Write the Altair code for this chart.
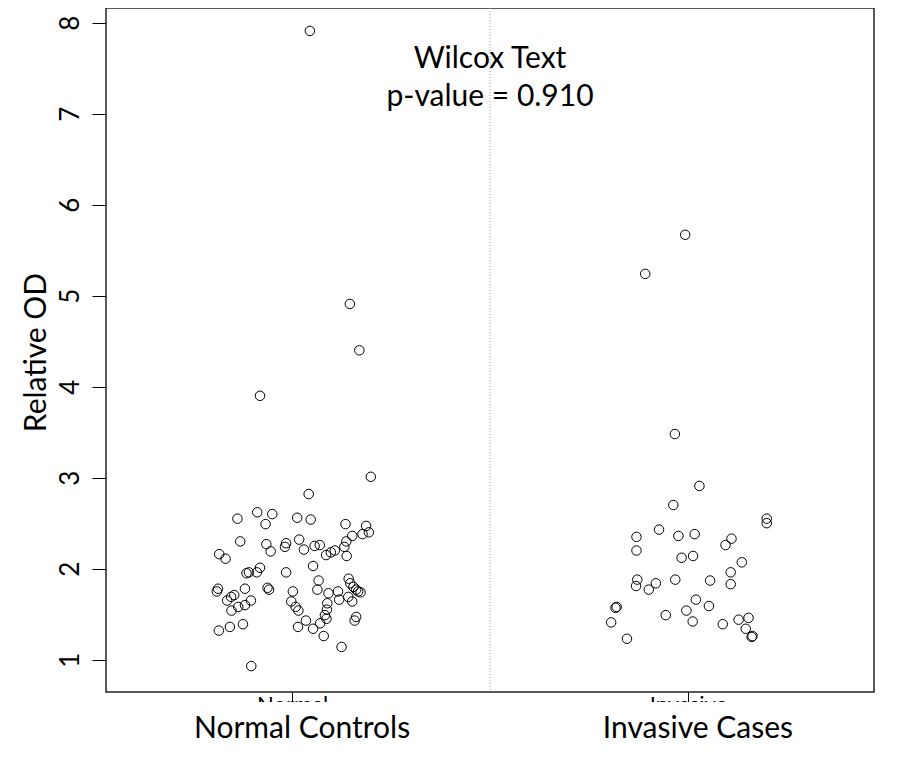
import altair as alt
import pandas as pd

# ---------------- data ----------------
groups = ["Normal", "Invasive"]
group_titles = ["Normal Controls", "Invasive Cases"]
annotation = ["Wilcox Text", "p-value = 0.910"]
y_ticks = [1, 2, 3, 4, 5, 6, 7, 8]

normal_x = [1.045, 1.146, 1.170, 0.919, 1.199, 1.042, 0.862, 0.912, 0.950, 0.933,
            1.013, 1.047, 1.135, 1.187, 1.194, 1.178, 1.152, 1.137, 1.132, 1.138,
            0.869, 0.935, 0.946, 0.985, 0.982, 1.018, 1.030, 1.057, 1.070, 1.086,
            1.098, 1.108, 0.816, 0.832, 0.919, 0.911, 0.891, 0.885, 0.985, 1.053,
            0.813, 0.810, 0.881, 0.938, 0.942, 0.846, 0.854, 0.836, 0.864, 0.881,
            0.896, 0.847, 1.002, 0.998, 1.009, 1.016, 1.067, 1.064, 1.092, 1.116,
            1.119, 1.089, 1.088, 1.083, 1.087, 1.143, 1.147, 1.155, 1.162, 1.167,
            1.173, 1.142, 1.152, 1.162, 1.158, 0.815, 0.843, 0.876, 1.015, 1.035,
            1.053, 1.071, 1.080, 1.125, 0.897]
normal_y = [7.91, 4.91, 4.40, 3.90, 3.01, 2.82, 2.55, 2.62, 2.60, 2.49,
            2.56, 2.54, 2.49, 2.47, 2.40, 2.38, 2.36, 2.30, 2.24, 2.14,
            2.30, 2.27, 2.19, 2.28, 2.24, 2.32, 2.21, 2.25, 2.26, 2.15,
            2.18, 2.20, 2.16, 2.11, 2.01, 1.96, 1.96, 1.95, 1.96, 2.03,
            1.78, 1.75, 1.78, 1.79, 1.77, 1.69, 1.71, 1.65, 1.58, 1.60,
            1.65, 1.54, 1.75, 1.64, 1.58, 1.54, 1.87, 1.77, 1.73, 1.75,
            1.66, 1.62, 1.55, 1.49, 1.45, 1.89, 1.84, 1.80, 1.77, 1.75,
            1.74, 1.69, 1.64, 1.47, 1.43, 1.32, 1.36, 1.39, 1.36, 1.43,
            1.34, 1.40, 1.26, 1.14, 0.93]

invasive_x = [1.993, 1.892, 1.967, 2.029, 1.963, 2.199, 2.199, 1.927, 1.870, 1.976,
              2.017, 2.110, 2.095, 1.870, 1.984, 2.013, 2.136, 2.108, 1.872, 1.869,
              1.919, 1.901, 1.968, 2.056, 2.108, 2.020, 2.053, 1.996, 1.944, 1.817,
              1.820, 1.806, 1.846, 2.012, 2.088, 2.128, 2.153, 2.146, 2.161, 2.163]
invasive_y = [5.67, 5.24, 3.48, 2.91, 2.70, 2.55, 2.50, 2.43, 2.35, 2.36,
              2.38, 2.33, 2.26, 2.20, 2.12, 2.14, 2.07, 1.96, 1.88, 1.81,
              1.84, 1.77, 1.88, 1.87, 1.83, 1.66, 1.59, 1.54, 1.49, 1.57,
              1.58, 1.41, 1.23, 1.42, 1.39, 1.44, 1.46, 1.34, 1.25, 1.26]

# ---------------- layout / style ----------------
W, H = 768, 684
FONT = "Lato"

pts = pd.DataFrame({
    "group": [groups[0]] * len(normal_x) + [groups[1]] * len(invasive_x),
    "x": normal_x + invasive_x,
    "y": normal_y + invasive_y,
})

xscale = alt.Scale(domain=[0.53, 2.47], nice=False, zero=False)
yscale = alt.Scale(domain=[0.645, 8.162], nice=False, zero=False)
label_expr = f"datum.value == 1 ? '{groups[0]}' : '{groups[1]}'"

x_axis = alt.Axis(values=[1, 2], labelExpr=label_expr, title=None, tickSize=10,
                  labelPadding=-8, labelBaseline="top", labelAlign="center",
                  labelFontSize=22, labelFont=FONT, grid=False, domain=False,
                  tickColor="black", labelColor="black", labelOverlap=False)
y_axis = alt.Axis(values=y_ticks, format="d", title="Relative OD", titleAngle=270,
                  titleX=-70, titleY=H / 2 + 2, titleAlign="center",
                  titleBaseline="middle", titleFont=FONT, titleFontSize=30,
                  titleFontWeight="normal", titleColor="black", labelAngle=270,
                  labelAlign="center", labelBaseline="alphabetic", labelFont=FONT,
                  labelFontSize=26, labelPadding=14, tickSize=14, grid=False,
                  domain=False, tickColor="black", labelColor="black",
                  labelOverlap=False, labelFlush=False)

points = alt.Chart(pts).mark_point(
    shape="circle", filled=False, color="black", size=90, strokeWidth=1, opacity=1
).encode(
    x=alt.X("x:Q", scale=xscale, axis=x_axis),
    y=alt.Y("y:Q", scale=yscale, axis=y_axis),
)

mid = pd.DataFrame({"x": [1.5]})
divider = alt.Chart(mid).mark_rule(color="#999999", strokeDash=[1, 2], strokeWidth=1).encode(
    x=alt.X("x:Q", scale=xscale, title=None)
)

annot = alt.Chart(mid).mark_text(
    font=FONT, fontSize=30, baseline="alphabetic", align="center", lineHeight=38, color="black"
).encode(
    x=alt.X("x:Q", scale=xscale, title=None),
    y=alt.datum(7.5),
    text=alt.value(annotation),
)

cover = alt.Chart(mid).mark_rect(color="white", opacity=1).encode(
    x=alt.value(0), x2=alt.value(W), y=alt.value(H + 10), y2=alt.value(H + 23)
)

titles_df = pd.DataFrame({"pos": [1, 2], "label": group_titles})
titles = alt.Chart(titles_df).mark_text(
    font=FONT, fontSize=30, baseline="alphabetic", align="center", dx=10, color="black"
).encode(
    x=alt.X("pos:Q", scale=xscale, title=None),
    y=alt.value(H + 46),
    text="label:N",
)

chart = alt.layer(divider, points, annot, cover, titles).properties(
    width=W, height=H,
    autosize=alt.AutoSizeParams(type="none"),
    padding={"left": 98, "top": 0, "right": 18, "bottom": 60},
).configure(
    background="white",
    view=alt.ViewConfig(stroke="#222222", strokeWidth=1.5),
)

chart.save("out.html", embed_options={"renderer": "svg", "actions": False})
